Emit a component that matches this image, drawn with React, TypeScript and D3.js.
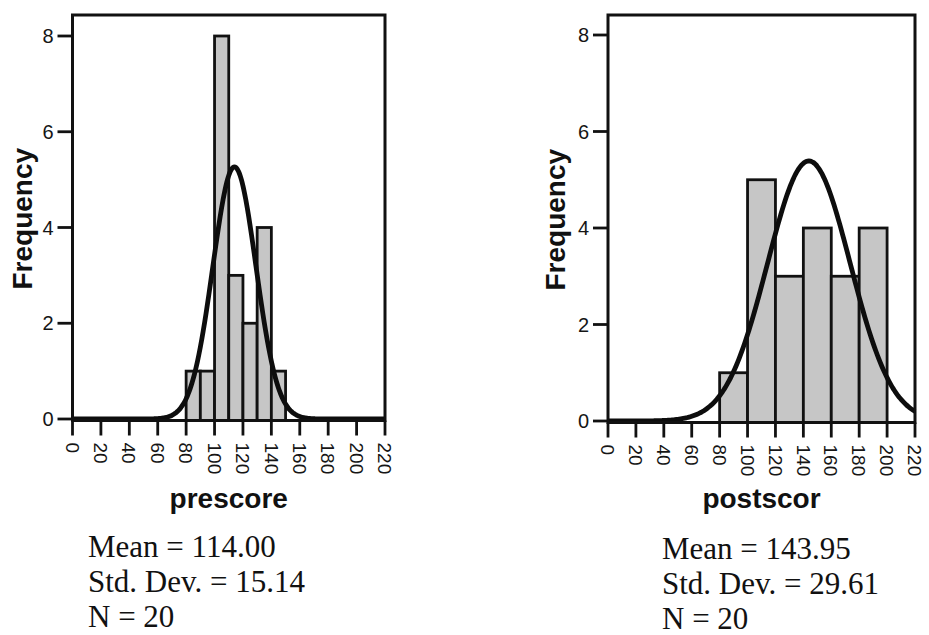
import { useEffect, useRef } from "react";
import * as d3 from "d3";

// histogram data
const preBinStarts = [80, 90, 100, 110, 120, 130, 140];
const preCounts = [1, 1, 8, 3, 2, 4, 1];
const preBinWidth = 10;

const postBinStarts = [80, 100, 120, 140, 160, 180];
const postCounts = [1, 5, 3, 4, 3, 4];
const postBinWidth = 20;

const xTicks = [0, 20, 40, 60, 80, 100, 120, 140, 160, 180, 200, 220];
const yTicks = [0, 2, 4, 6, 8];

const names = ["prescore", "postscor"];
const means = [114.0, 143.95];
const stdDevs = [15.14, 29.61];
const counts = [20, 20];

const width = 929;
const height = 635;

const panels = [
    { left: 72.5, right: 385, top: 15, zero: 419, eight: 36, starts: preBinStarts, freq: preCounts, bw: preBinWidth, freqX: 32, statX: 88, statY: 557 },
    { left: 608, right: 915, top: 15, zero: 421, eight: 35, starts: postBinStarts, freq: postCounts, bw: postBinWidth, freqX: 565, statX: 662, statY: 559 },
];

const drawChart = (svgEl: SVGSVGElement) => {
    const svg = d3.select(svgEl);
    svg.selectAll("*").remove();

    panels.forEach((p, i) => {
        const x = d3.scaleLinear().domain([0, 220]).range([p.left, p.right]);
        const y = d3.scaleLinear().domain([0, 8]).range([p.zero, p.eight]);
        const bottom = p.zero + 1.5;
        const g = svg.append("g");

        // bars
        g.selectAll("rect.bar")
            .data(p.starts.map((s, k) => ({ s, c: p.freq[k] })))
            .join("rect")
            .attr("class", "bar")
            .attr("x", d => x(d.s))
            .attr("width", d => x(d.s + p.bw) - x(d.s))
            .attr("y", d => y(d.c))
            .attr("height", d => bottom - y(d.c))
            .attr("fill", "#c6c6c6")
            .attr("stroke", "#111")
            .attr("stroke-width", 2.8);

        // normal curve from the stated mean / sd
        const mu = means[i];
        const sd = stdDevs[i];
        const scale = counts[i] * p.bw;
        const pts = d3.range(0, 220.5, 1).map(v => [v, scale * Math.exp(-0.5 * ((v - mu) / sd) ** 2) / (sd * Math.sqrt(2 * Math.PI))]);
        g.append("path")
            .attr("d", d3.line().x(d => x(d[0])).y(d => y(d[1])).curve(d3.curveBasis)(pts as [number, number][]))
            .attr("fill", "none")
            .attr("stroke", "#0d0d0d")
            .attr("stroke-width", 4.8);

        // frame
        g.append("rect")
            .attr("x", p.left)
            .attr("y", p.top)
            .attr("width", p.right - p.left)
            .attr("height", bottom - p.top)
            .attr("fill", "none")
            .attr("stroke", "#111")
            .attr("stroke-width", 3);

        // y axis ticks
        const ag = g.append("g").attr("font-family", "Liberation Sans, Arial, sans-serif").attr("fill", "#151515");
        yTicks.forEach(t => {
            ag.append("line")
                .attr("x1", p.left - 15).attr("x2", p.left)
                .attr("y1", y(t)).attr("y2", y(t))
                .attr("stroke", "#111").attr("stroke-width", 2.8);
            ag.append("text")
                .attr("x", p.left - 19).attr("y", y(t))
                .attr("dy", "0.36em")
                .attr("text-anchor", "end")
                .attr("font-size", 20)
                .text(t);
        });

        // x axis ticks, rotated labels
        xTicks.forEach(t => {
            ag.append("line")
                .attr("x1", x(t)).attr("x2", x(t))
                .attr("y1", bottom).attr("y2", bottom + 15)
                .attr("stroke", "#111").attr("stroke-width", 2.8);
            ag.append("text")
                .attr("transform", `translate(${x(t)},${bottom + 22}) rotate(90)`)
                .attr("dy", "0.36em")
                .attr("text-anchor", "start")
                .attr("font-size", 19)
                .text(t);
        });

        // axis titles
        g.append("text")
            .attr("transform", `translate(${p.freqX},${(p.top + bottom) / 2 + 1}) rotate(-90)`)
            .attr("text-anchor", "middle")
            .attr("font-family", "Liberation Sans, Arial, sans-serif")
            .attr("font-weight", "bold")
            .attr("font-size", 28)
            .attr("fill", "#111")
            .text("Frequency");

        g.append("text")
            .attr("x", (p.left + p.right) / 2)
            .attr("y", 508)
            .attr("text-anchor", "middle")
            .attr("font-family", "Liberation Sans, Arial, sans-serif")
            .attr("font-weight", "bold")
            .attr("font-size", 28)
            .attr("fill", "#111")
            .text(names[i]);

        // stats block
        const lines = [
            `Mean = ${means[i].toFixed(2)}`,
            `Std. Dev. = ${stdDevs[i].toFixed(2)}`,
            `N = ${counts[i]}`,
        ];
        g.append("g")
            .attr("font-family", "Liberation Serif, Times New Roman, serif")
            .attr("font-size", 31)
            .attr("fill", "#111")
            .selectAll("text")
            .data(lines)
            .join("text")
            .attr("x", p.statX)
            .attr("y", (d, k) => p.statY + k * 35)
            .text(d => d);
    });
};

export default function App() {
    const ref = useRef<SVGSVGElement>(null);

    useEffect(() => {
        if (ref.current) drawChart(ref.current);
    }, []);

    return (
        <svg
            ref={ref}
            width={width}
            height={height}
            style={{ position: "absolute", left: 0, top: 0, background: "#fff" }}
        />
    );
}
